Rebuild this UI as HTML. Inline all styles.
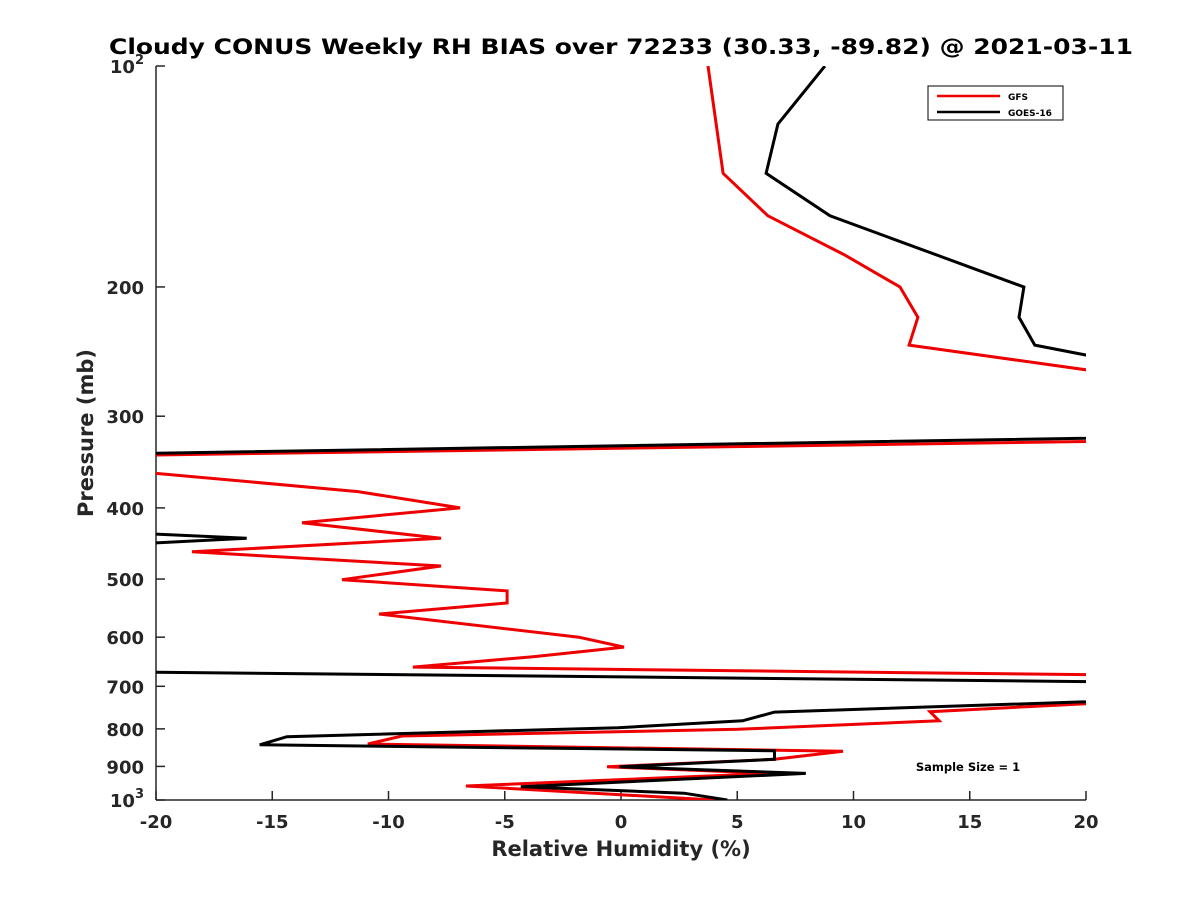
<!DOCTYPE html>
<html><head><meta charset="utf-8"><style>
body{margin:0;background:#fff;}
svg{display:block;font-family:"DejaVu Sans","Liberation Sans",sans-serif;}
</style></head><body>
<svg id="chart" width="1200" height="900" viewBox="0 0 1200 900">
<defs><clipPath id="plotclip"><rect x="156" y="66" width="930" height="734"/></clipPath></defs>
<rect width="1200" height="900" fill="#fff"/>
<text x="621" y="54" text-anchor="middle" font-size="21.5" font-weight="bold" textLength="1024" lengthAdjust="spacingAndGlyphs">Cloudy CONUS Weekly RH BIAS over 72233 (30.33, -89.82) @ 2021-03-11</text>
<g id="axes"></g>
<g id="series" clip-path="url(#plotclip)"></g>
<text x="621" y="856" text-anchor="middle" font-size="21" font-weight="bold" fill="#262626">Relative Humidity (%)</text>
<text transform="translate(93,433) rotate(-90)" text-anchor="middle" font-size="21" font-weight="bold" fill="#262626">Pressure (mb)</text>
<g>
<rect x="928" y="86" width="135" height="34" fill="#fff" stroke="#000" stroke-width="1"/>
<line x1="937" y1="96" x2="1000" y2="96" stroke="#e00" stroke-width="2.5"/>
<text x="1008" y="100" font-size="9" font-weight="bold">GFS</text>
<line x1="937" y1="112" x2="1000" y2="112" stroke="#000" stroke-width="2.5"/>
<text x="1008" y="116" font-size="9" font-weight="bold">GOES-16</text>
</g>
<text x="968" y="771" text-anchor="middle" font-size="11.5" font-weight="bold">Sample Size = 1</text>
</svg>
<script>
const xTicks = [-20,-15,-10,-5,0,5,10,15,20];
const yTicks = [100,200,300,400,500,600,700,800,900,1000];
const yTickLabels = ["10|2","200","300","400","500","600","700","800","900","10|3"];
const gfsRH = [3.74,4.39,6.32,9.63,12.0,12.77,12.39,40,-40,-30,-11.31,-6.92,-13.72,-7.74,-18.45,-7.74,-12.0,-4.9,-4.9,-10.41,-1.81,0.13,-3.78,-8.95,40,13.29,13.68,5.03,-9.42,-10.89,9.55,6.6,-0.6,6.5,-6.67,4.0];
const gfsP = [100,140,160,181,200,220,240,318,346,336,380,400,419,440,459,480,501,519,539,558,600,619,638,659,686,758,780,801,818,839,858,880,901,920,957,1000];
const goesRH = [8.77,6.75,6.24,8.99,17.33,17.12,17.8,37,-40,-30,-16.1,-40,-40,40,6.6,5.23,-0.13,-14.37,-15.54,6.6,6.6,-0.06,7.95,-4.31,2.71,4.57];
const goesP = [100,120,140,160,200,220,240,315,345,420,440,480,660,700,759,780,797,820,841,857,880,901,920,959,979,1000];

const X0=156,X1=1086,Y0=66,Y1=800;
const xs = v => X0 + (v+20)/40*(X1-X0);
const ys = p => Y0 + (Math.log10(p)-2)*(Y1-Y0);
const NS="http://www.w3.org/2000/svg";
const axes=document.getElementById('axes'), series=document.getElementById('series');
function mk(tag, parent, attrs){const e=document.createElementNS(NS,tag);for(const k in attrs)e.setAttribute(k,attrs[k]);parent.appendChild(e);return e;}

let a=mk('line',axes,{x1:X0,y1:Y0,x2:X0,y2:Y1,stroke:'#262626','stroke-width':1.5});


a=mk('line',axes,{x1:X0,y1:Y1,x2:X1,y2:Y1,stroke:'#262626','stroke-width':1.5});



xTicks.forEach(v=>{
  const x=xs(v);
  const t=mk('line',axes,{x1:x,y1:Y1,x2:x,y2:Y1-9,stroke:'#262626','stroke-width':1.5});
  
  
  const l=mk('text',axes,{x:x,y:Y1+28,'text-anchor':'middle','font-size':18,'font-weight':'bold',fill:'#262626'});
  l.textContent=String(v);
  
  
});
yTicks.forEach((p,i)=>{
  const y=ys(p);
  const t=mk('line',axes,{x1:X0,y1:y,x2:X0+9,y2:y,stroke:'#262626','stroke-width':1.5});
  
  
  const l=mk('text',axes,{x:X0-12,y:y+7,'text-anchor':'end','font-size':18,'font-weight':'bold',fill:'#262626'});
  const parts=yTickLabels[i].split('|');
  const b=mk('tspan',l,{});
  b.textContent=parts[0];
  if(parts[1]){const s=mk('tspan',l,{dy:-9,'font-size':13});s.textContent=parts[1];}
  
  
});

function drawLine(vals, ps, color, name){
  const pts=vals.map((v,i)=>xs(v).toFixed(1)+','+ys(ps[i]).toFixed(1)).join(' ');
  const pl=mk('polyline',series,{points:pts,fill:'none',stroke:color,'stroke-width':3,'stroke-linejoin':'miter'});
  
  
}
drawLine(gfsRH,gfsP,'#e00','gfs-line');
drawLine(goesRH,goesP,'#000','goes16-line');
</script>
</body></html>
